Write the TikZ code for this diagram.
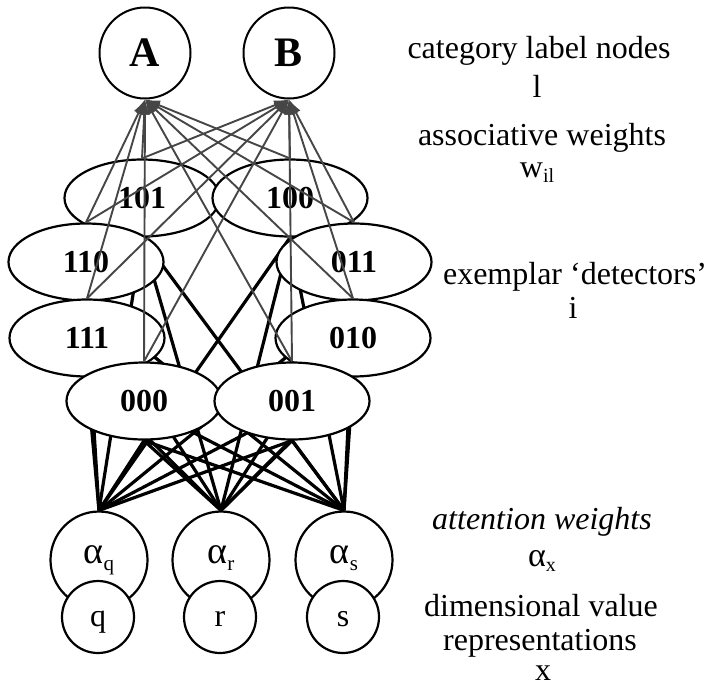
\documentclass[tikz,border=0pt]{standalone}
\usepackage{fontspec}
\setmainfont{Liberation Serif}
\usetikzlibrary{shapes.geometric,arrows.meta,backgrounds}
\newcommand{\lowsub}[1]{{\fontsize{21}{21}\selectfont\raisebox{-7pt}{#1}}}
\begin{document}
\begin{tikzpicture}[x=1pt,y=-1pt,
  catnode/.style={circle,draw,line width=2pt,minimum size=91pt,inner sep=0pt,
    font=\fontsize{42}{42}\selectfont\bfseries},
  exnode/.style={ellipse,draw,fill=white,line width=2.2pt,minimum width=155pt,
    minimum height=77pt,inner sep=0pt,font=\fontsize{32}{32}\selectfont\bfseries},
  attnode/.style={circle,draw,fill=white,line width=2.2pt,minimum size=97pt,inner sep=0pt},
  dimnode/.style={circle,draw,fill=white,line width=2.2pt,minimum size=72pt,inner sep=0pt,
    text height=18pt,text depth=0pt,font=\fontsize{32}{32}\selectfont},
  alphatext/.style={anchor=base,inner sep=0pt,font=\fontsize{38}{38}\selectfont},
  attline/.style={line width=3.2pt,black},
  assocline/.style={line width=1.9pt,gray!55!black,
    -{Latex[length=15pt,width=10pt]}},
  sidetext/.style={anchor=base,inner sep=0pt,font=\fontsize{32}{38}\selectfont}]

\useasboundingbox (0,0) rectangle (708,691);

% category label nodes
\node[catnode] (A) at (145,53) {A};
\node[catnode] (B) at (289,53) {B};

% exemplar nodes, upper rows first so lower ones overlap them
\node[exnode] (e101) at (142,198) {101};
\node[exnode] (e100) at (290,198) {100};
\node[exnode] (e110) at (86,262) {110};
\node[exnode] (e011) at (354,262) {011};
\node[exnode] (e111) at (87,338) {111};
\node[exnode] (e010) at (353,338) {010};
\node[exnode] (e000) at (144,401) {000};
\node[exnode] (e001) at (292,401) {001};

% attention weights and dimensional values
\foreach \d/\x in {q/99,r/221,s/344}{
  \node[attnode] (a\d) at (\x,560) {};
  \node[dimnode] (v\d) at (\x-1,617) {\d};
}
\node[alphatext] (ta q) at (99,563) {α\lowsub{q}};
\node[alphatext] (ta r) at (221,563) {α\lowsub{r}};
\node[alphatext] (ta s) at (344,563) {α\lowsub{s}};

% attention-weighted connections, hidden behind the exemplar nodes
\begin{scope}[on background layer]
  \foreach \d in {q,r,s}{
    \foreach \e in {101,100,110,011,111,010,000,001}{
      \draw[attline] (a\d.north) -- (e\e.south);
    }
  }
\end{scope}

% associative weights
\foreach \e in {101,100,110,011,111,010,000,001}{
  \draw[assocline] (e\e.north) -- (A.south);
  \draw[assocline] (e\e.north) -- (B.south);
}

% layer descriptions
\node[sidetext] (t1) at (539,58) {category label nodes};
\node[sidetext] (t2) at (537,97) {l};
\node[sidetext] (t3) at (542,145) {associative weights};
\node[sidetext] (t4) at (537,177) {w{\fontsize{20}{20}\selectfont\raisebox{-5pt}{il}}};
\node[sidetext] (t5) at (575,284) {exemplar ‘detectors’};
\node[sidetext] (t6) at (573,318) {i};
\node[sidetext] (t7) at (542,529) {\itshape attention weights};
\node[sidetext] (t8) at (542,566) {{\fontsize{34}{34}\selectfont α}{\fontsize{20}{20}\selectfont\raisebox{-5pt}{x}}};
\node[sidetext] (t9) at (541,616) {dimensional value};
\node[sidetext] (t10) at (540,650) {representations};
\node[sidetext] (t11) at (543,680) {x};
\end{tikzpicture}
\end{document}
